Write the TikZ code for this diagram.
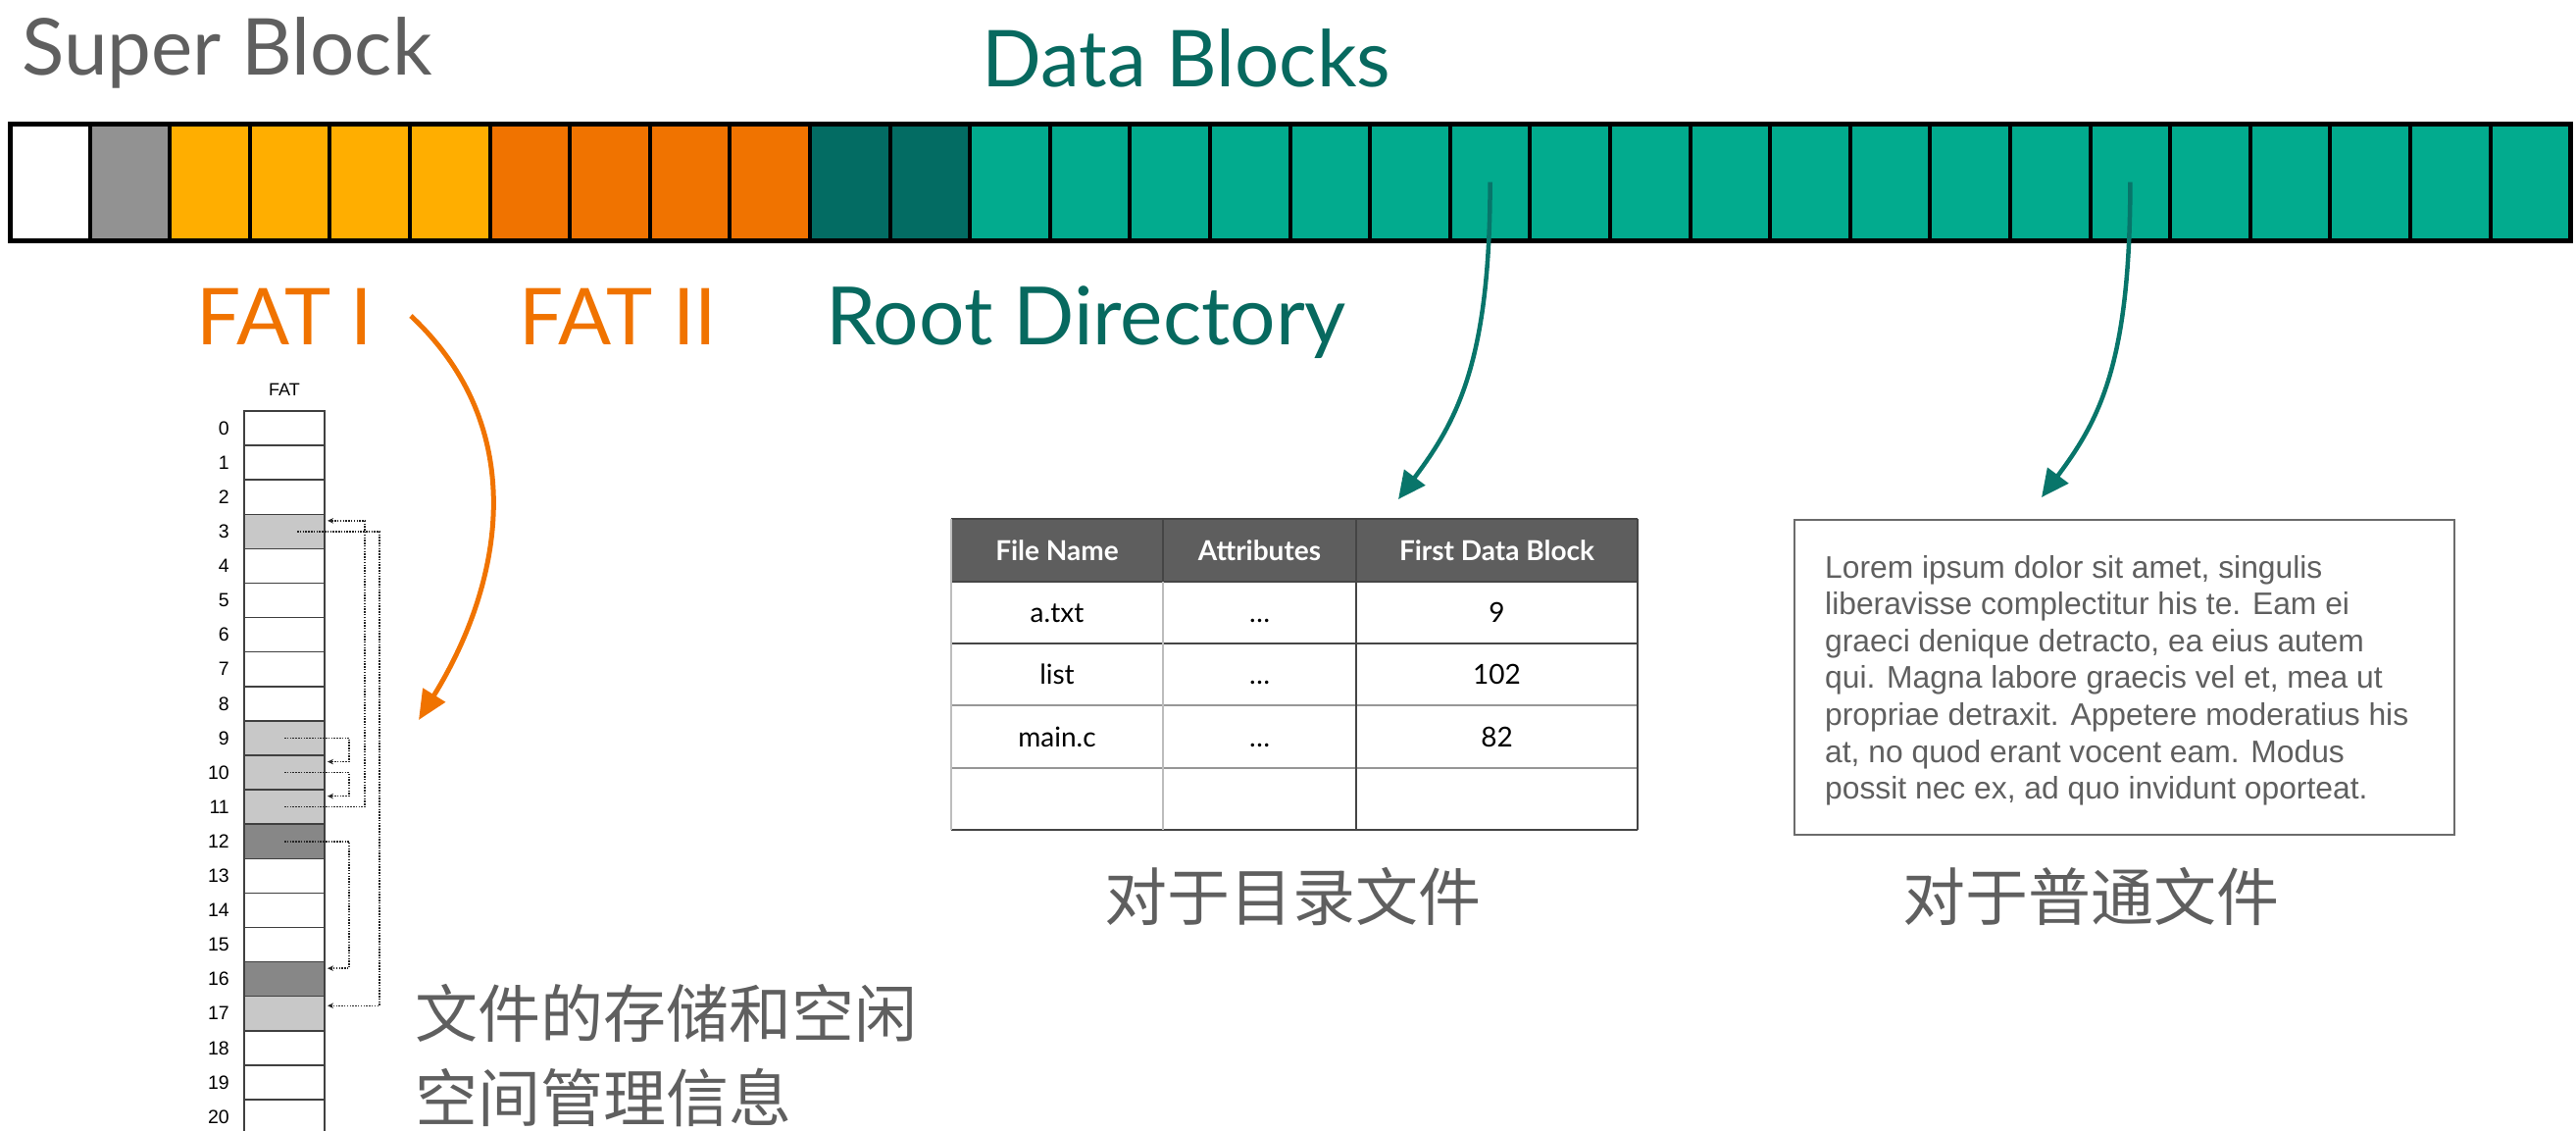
\documentclass[tikz,border=0pt]{standalone}
\usepackage{fontspec}
\setmainfont{Lato}
\newfontfamily\helvfont{Liberation Sans}
\newfontfamily\cjkfont{Noto Sans CJK SC}
\usetikzlibrary{arrows.meta}

\definecolor{inkgray}{HTML}{5F5F5F}
\definecolor{sbgray}{HTML}{929292}
\definecolor{fatA}{HTML}{FFAE00}
\definecolor{fatB}{HTML}{F07300}
\definecolor{rootC}{HTML}{036C63}
\definecolor{dataC}{HTML}{02AB8E}
\definecolor{tealtext}{HTML}{07695F}
\definecolor{tealarrow}{HTML}{08756A}
\definecolor{usedA}{HTML}{C8C8C8}
\definecolor{usedB}{HTML}{878787}
\definecolor{hdrgray}{HTML}{5E5E5E}
\definecolor{gridlight}{HTML}{BDBDBD}
\definecolor{griddark}{HTML}{454545}

\begin{document}
\begin{tikzpicture}[x=1pt,y=-1pt,
  blockcell/.style={draw=black, line width=4pt, minimum width=81.6pt,
    minimum height=119pt, inner sep=0pt, outer sep=0pt},
  fatcell/.style={draw=black!75, line width=1.5pt, minimum width=82pt,
    minimum height=35.1pt, inner sep=0pt, outer sep=0pt},
  fatnum/.style={font=\helvfont\fontsize{19.5}{19.5}\selectfont, anchor=east, inner sep=0pt},
  fatlink/.style={line width=1.5pt, black!85, dash pattern=on 1.5pt off 1.3pt,
    -{Stealth[length=6pt,width=5.5pt]}},
  title/.style={anchor=base, inner sep=0pt, font=\fontsize{80}{96}\selectfont},
  hdr/.style={inner sep=0pt, text=white, text height=20pt, text depth=0pt,
    font=\bfseries\fontsize{28}{28}\selectfont},
  cellt/.style={inner sep=0pt, text=black, text height=20pt, text depth=0pt,
    font=\fontsize{28}{28}\selectfont},
  loremline/.style={anchor=base west, inner sep=0pt, text=inkgray,
    font=\helvfont\fontsize{31.8}{38}\selectfont},
  cjklabel/.style={inner sep=0pt, text=inkgray, font=\cjkfont\fontsize{64}{80}\selectfont},
  tealcurve/.style={line width=4.5pt, tealarrow, -{Triangle[length=28pt,width=26pt]}},
  fatcurve/.style={line width=5pt, fatB, -{Triangle[length=30pt,width=26pt]}}
]
\useasboundingbox (0,0) rectangle (2627,1152);

% ---------- titles ----------
\node[title, text=inkgray] (supertitle) at (231.5,76) {Super Block};
\node[title, text=tealtext] (datatitle) at (1210,88) {Data Blocks};
\node[title, text=fatB] (fat1title) at (290.5,351) {FAT I};
\node[title, text=fatB] (fat2title) at (630,351) {FAT II};
\node[title, text=tealtext, font=\fontsize{82}{96}\selectfont] (roottitle) at (1107.5,351) {Root Directory};

% ---------- disk block strip ----------
\foreach \col [count=\i from 0] in {white,sbgray,fatA,fatA,fatA,fatA,fatB,fatB,fatB,fatB,
  rootC,rootC,dataC,dataC,dataC,dataC,dataC,dataC,dataC,dataC,dataC,dataC,
  dataC,dataC,dataC,dataC,dataC,dataC,dataC,dataC,dataC,dataC}
  \node[blockcell, fill=\col] (c\i) at ({10+81.6*(\i+0.5)},185.5) {};
\draw[line width=5pt] (c0.north west) rectangle (c31.south east);

% ---------- FAT table ----------
\node[font=\helvfont\fontsize{18}{18}\selectfont, inner sep=0pt] (fathead) at (290,397) {FAT};
\foreach \col [count=\i from 0] in {white,white,white,usedA,white,white,white,white,white,
  usedA,usedA,usedA,usedB,white,white,white,usedB,usedA,white,white,white} {
  \node[fatcell, fill=\col] (f\i) at (290,{419+35.1*(\i+0.5)}) {};
  \node[fatnum] (n\i) at (234,{419+35.1*(\i+0.5)}) {\i};
}
% block chains: 9 -> 10 -> 11 -> 3 -> 17 and 12 -> 16
\draw[fatlink] (f9.center) -- ([xshift=66pt]f9.center) |- ([xshift=3pt,yshift=11pt]f10.east);
\draw[fatlink] (f10.center) -- ([xshift=66pt]f10.center) |- ([xshift=3pt,yshift=11pt]f11.east);
\draw[fatlink] (f11.center) -- ([xshift=82pt]f11.center) |- ([xshift=3pt,yshift=11pt]f3.east);
\draw[fatlink] ([xshift=13pt]f3.center) -- ([xshift=97pt]f3.center) |- ([xshift=3pt,yshift=8pt]f17.east);
\draw[fatlink] (f12.center) -- ([xshift=66pt]f12.center) |- ([xshift=3pt,yshift=11pt]f16.east);

\node[cjklabel, anchor=west] (fatnote1) at (423,1033) {文件的存储和空闲};
\node[cjklabel, anchor=west] (fatnote2) at (423,1119) {空间管理信息};

% FAT I points to the table
\coordinate (fatstart) at (419,322);
\coordinate (fatend) at (427,734);
\draw[fatcurve] (fatstart) .. controls +(126,118) and +(83,-134) .. (fatend);

% ---------- directory table ----------
\fill[hdrgray] (970,529) rectangle (1670,593);
\draw[griddark, line width=2pt] (970,529) -- (1670,529);
\draw[griddark, line width=2pt] (970,593) -- (1670,593);
\draw[griddark, line width=1.6pt] (970,656) -- (1670,656);
\draw[gridlight!80!black, line width=1.6pt] (970,719) -- (1670,719);
\draw[gridlight!80!black, line width=1.6pt] (970,783) -- (1670,783);
\draw[griddark, line width=2pt] (970,846) -- (1670,846);
\draw[gridlight, line width=1.6pt] (970,529) -- (970,846);
\draw[gridlight, line width=1.6pt] (1186,593) -- (1186,846);
\draw[griddark, line width=1.2pt] (1186,529) -- (1186,593);
\draw[griddark, line width=1.8pt] (1383,529) -- (1383,846);
\draw[griddark, line width=2pt] (1670,529) -- (1670,846);

\node[hdr] (hname) at (1078,561) {File Name};
\node[hdr] (hattr) at (1284.5,561) {Attributes};
\node[hdr] (hfirst) at (1526.5,561) {First Data Block};
\node[cellt] (r1a) at (1078,624.5) {a.txt};
\node[cellt] (r1b) at (1284.5,624.5) {…};
\node[cellt] (r1c) at (1526.5,624.5) {9};
\node[cellt] (r2a) at (1078,687.5) {list};
\node[cellt] (r2b) at (1284.5,687.5) {…};
\node[cellt] (r2c) at (1526.5,687.5) {102};
\node[cellt] (r3a) at (1078,751) {main.c};
\node[cellt] (r3b) at (1284.5,751) {…};
\node[cellt] (r3c) at (1526.5,751) {82};

\node[cjklabel] (dircap) at (1318,914) {对于目录文件};

% ---------- regular file contents ----------
\node[draw=black!58, line width=2.5pt, minimum width=673pt, minimum height=321pt,
  inner sep=0pt] (filebox) at (2166.5,690.5) {};
\foreach \t [count=\k from 0] in {{Lorem ipsum dolor sit amet, singulis},
  {liberavisse complectitur his te. Eam ei},
  {graeci denique detracto, ea eius autem},
  {qui. Magna labore graecis vel et, mea ut},
  {propriae detraxit. Appetere moderatius his},
  {at, no quod erant vocent eam. Modus},
  {possit nec ex, ad quo invidunt oporteat.}}
  \node[loremline] (lorem\k) at (1861,{589+37.6*\k}) {\t};

\node[cjklabel] (filecap) at (2132,914) {对于普通文件};

% ---------- data block pointers ----------
\coordinate (dirtip) at (1426,509);
\coordinate (filetip) at (2082,507);
\draw[tealcurve] (c18.center) .. controls +(0,183) and +(60,-80) .. (dirtip);
\draw[tealcurve] (c26.center) .. controls +(0,183) and +(60,-80) .. (filetip);
\end{tikzpicture}
\end{document}
